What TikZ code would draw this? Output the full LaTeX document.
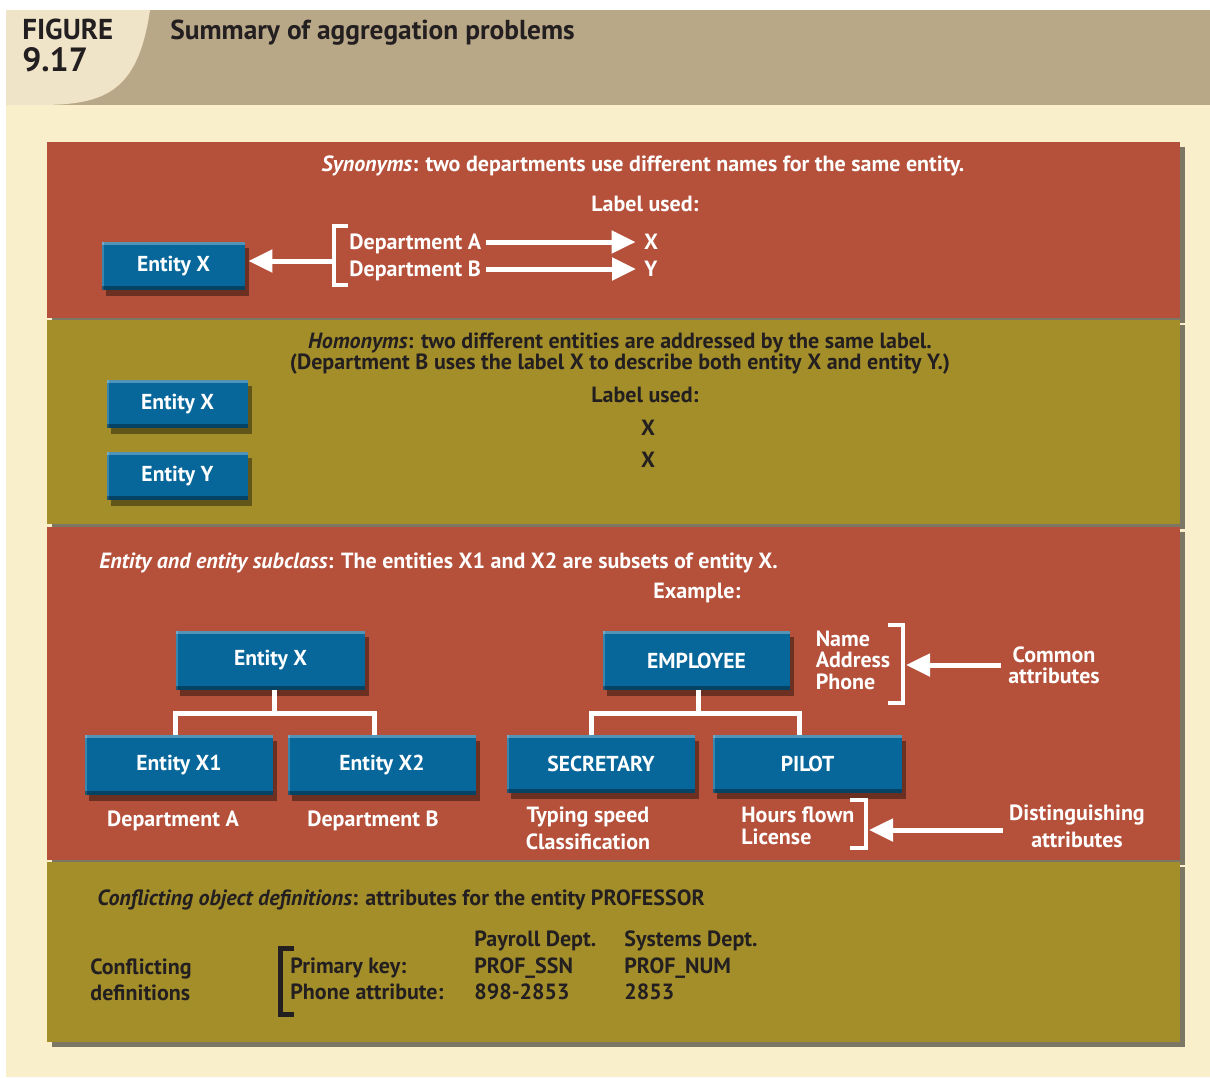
\documentclass[tikz,border=0pt]{standalone}
\usepackage{fontspec}
\setmainfont{PT Sans}
\usetikzlibrary{shadows,arrows.meta,calc}
\definecolor{hdr}{HTML}{B9A888}
\definecolor{tabc}{HTML}{F0E4C8}
\definecolor{cream}{HTML}{F9EFCA}
\definecolor{brick}{HTML}{B5503A}
\definecolor{olive}{HTML}{A38E2A}
\definecolor{boxblue}{HTML}{07679A}
\definecolor{ink}{HTML}{231F20}
\tikzset{
  panel/.style={fill=#1, drop shadow={shadow xshift=2.5pt, shadow yshift=-2.5pt, opacity=0.5, fill=black}},
  ent/.style={fill=boxblue, text=white, font=\bfseries\fontsize{10.8}{13}\selectfont, inner sep=0pt,
    drop shadow={shadow xshift=2.2pt, shadow yshift=-2.8pt, opacity=0.4, fill=black},
    path picture={
      \fill[white,opacity=0.3] (path picture bounding box.north west) rectangle ([yshift=-1.5pt]path picture bounding box.north east);
      \fill[white,opacity=0.2] (path picture bounding box.north west) rectangle ([xshift=1.2pt]path picture bounding box.south west);
      \fill[black,opacity=0.35] (path picture bounding box.south west) rectangle ([yshift=2pt]path picture bounding box.south east);
    }},
  wtxt/.style={text=white, font=\bfseries\fontsize{11}{13}\selectfont, inner sep=0pt},
  dtxt/.style={text=ink, font=\bfseries\fontsize{11}{13}\selectfont, inner sep=0pt},
  wline/.style={draw=white, line width=2.5pt},
  warrow/.style={draw=white, line width=2.5pt, -{Triangle[length=12pt,width=11pt]}},
  wbrack/.style={draw=white, line width=2pt},
  bbrack/.style={draw=ink, line width=2.5pt},
}
\begin{document}
\begin{tikzpicture}[x=0.5pt,y=-0.5pt]
\useasboundingbox (0,0) rectangle (1210,1077);
\fill[white] (0,0) rectangle (1210,1077);
% page background and header band
\fill[cream] (6,105) rectangle (1210,1077);
\fill[hdr] (6,10) rectangle (1210,105);
\fill[tabc] (6,10) -- (150,10) .. controls (138,92) and (105,105) .. (40,105) -- (6,105) -- cycle;
\node[text=ink, font=\bfseries\fontsize{14.4}{16}\selectfont, anchor=mid west, inner sep=0pt] (fig) at (22,34) {FIGURE};
\node[text=ink, font=\bfseries\fontsize{16.8}{19}\selectfont, anchor=mid west, inner sep=0pt] (num) at (22,66) {9.17};
\node[text=ink, font=\bfseries\fontsize{13.7}{16}\selectfont, anchor=mid west, inner sep=0pt] (ttl) at (170,34) {Summary of aggregation problems};

% four bands
\path[panel=brick] (47,142) rectangle (1180,318);
\path[panel=olive] (47,320) rectangle (1180,524);
\path[panel=brick] (47,527) rectangle (1180,860);
\path[panel=olive] (47,862) rectangle (1180,1042);

% ---------- synonyms ----------
\node[wtxt, anchor=mid] (t1) at (643,166) {\textit{Synonyms}: two departments use different names for the same entity.};
\node[wtxt, anchor=mid] (lu1) at (645,206) {Label used:};
\node[ent, minimum width=71.5pt, minimum height=24pt] (s1x) at (173.5,266) {Entity X};
\draw[wbrack] (348,226) -- (334,226) -- (334,285) -- (348,285);
\coordinate (b1) at (334,261);
\node[wtxt, anchor=mid west] (depA) at (349,244) {Department A};
\node[wtxt, anchor=mid west] (depB) at (349,271) {Department B};
\node[wtxt, anchor=mid] (lx) at (651,244) {X};
\node[wtxt, anchor=mid] (ly) at (651,271) {Y};
\coordinate (ra) at ([xshift=2.5pt]depA.mid east);
\coordinate (rb) at ([xshift=2.5pt]depB.mid east);
\draw[warrow] (b1) -- ([xshift=1.5pt]s1x.east |- b1);
\draw[warrow] ([yshift=1pt]ra) -- ([xshift=-4pt,yshift=1pt]lx.west |- ra);
\draw[warrow] ([yshift=1pt]rb) -- ([xshift=-4pt,yshift=1pt]ly.west |- rb);

% ---------- homonyms ----------
\node[dtxt, anchor=mid] (t2a) at (620,343) {\textit{Homonyms}: two different entities are addressed by the same label.};
\node[dtxt, anchor=mid] (t2b) at (620,364) {(Department B uses the label X to describe both entity X and entity Y.)};
\node[dtxt, anchor=mid] (lu2) at (645,397) {Label used:};
\node[dtxt, anchor=mid] (hx1) at (648,430) {X};
\node[dtxt, anchor=mid] (hx2) at (648,462) {X};
\node[ent, minimum width=70.5pt, minimum height=24pt] (hx) at (177.5,404) {Entity X};
\node[ent, minimum width=70.5pt, minimum height=24pt] (hy) at (177.5,476) {Entity Y};

% ---------- entity and subclass ----------
\node[wtxt, anchor=mid west] (t3) at (99,563) {\textit{Entity and entity subclass}: The entities X1 and X2 are subsets of entity X.};
\node[wtxt, anchor=mid] (ex3) at (697,593) {Example:};
\node[ent, minimum width=94.5pt, minimum height=29.5pt] (ex) at (270.5,660.5) {Entity X};
\node[ent, minimum width=94pt, minimum height=30pt] (ex1) at (179,765) {Entity X1};
\node[ent, minimum width=94pt, minimum height=30pt] (ex2) at (382,765) {Entity X2};
\draw[wline] ([xshift=2pt]ex.south) -- ++(0,23) coordinate (j1);
\draw[wline] ([xshift=-2pt]ex1.north) |- (j1) -| ([xshift=-4pt]ex2.north);
\node[wtxt, anchor=mid] (da) at (173,821) {Department A};
\node[wtxt, anchor=mid] (db) at (373,821) {Department B};

\node[ent, minimum width=93.5pt, minimum height=29.5pt] (emp) at (696.5,660.5) {EMPLOYEE};
\node[ent, minimum width=94pt, minimum height=29pt] (sec) at (601,764) {SECRETARY};
\node[ent, minimum width=94.5pt, minimum height=29pt] (pil) at (807.5,764) {PILOT};
\draw[wline] ([xshift=1pt]emp.south) -- ++(0,23) coordinate (j2);
\draw[wline] ([xshift=-5pt]sec.north) |- (j2) -| ([xshift=-4pt]pil.north);

\node[wtxt, anchor=center, align=left, font=\bfseries\fontsize{11}{10.8}\selectfont] (nap) at (853,660) {Name\\Address\\Phone};
\draw[wbrack] (888,625) -- (903,625) -- (903,703) -- (888,703);
\coordinate (b2) at (906,665);
\node[wtxt, anchor=center, align=center, font=\bfseries\fontsize{11}{10.5}\selectfont] (ca) at (1054,665) {Common\\attributes};
\draw[warrow] ([xshift=-3.5pt]ca.west |- b2) -- (b2);

\node[wtxt, anchor=center, align=center, font=\bfseries\fontsize{11}{13.5}\selectfont] (ts) at (588,828) {Typing speed\\Classification};
\node[wtxt, anchor=west, align=left, font=\bfseries\fontsize{11}{11}\selectfont] (hf) at (741,826) {Hours flown\\License};
\draw[wbrack] (850,800) -- (866,800) -- (866,848) -- (850,848);
\coordinate (b3) at (869,830);
\node[wtxt, anchor=center, align=center, font=\bfseries\fontsize{11}{13.5}\selectfont] (da2) at (1077,826) {Distinguishing\\attributes};
\draw[warrow] ([xshift=-3pt]da2.west |- b3) -- (b3);

% ---------- conflicting definitions ----------
\node[dtxt, anchor=mid west] (t4) at (97,900) {\textit{Conflicting object definitions}: attributes for the entity PROFESSOR};
\node[dtxt, anchor=west, align=left, font=\bfseries\fontsize{11}{13}\selectfont] (cd) at (90,980) {Conflicting\\definitions};
\draw[bbrack] (294,948) -- (280,948) -- (280,1014) -- (294,1014);
\node[dtxt, anchor=mid west] (pk) at (290,968) {Primary key:};
\node[dtxt, anchor=mid west] (pa) at (290,994) {Phone attribute:};
\node[dtxt, anchor=mid west] (pd) at (474,941) {Payroll Dept.};
\node[dtxt, anchor=mid west] (pssn) at (474,968) {PROF\_SSN};
\node[dtxt, anchor=mid west] (pph) at (474,994) {898-2853};
\node[dtxt, anchor=mid west] (sd) at (624,941) {Systems Dept.};
\node[dtxt, anchor=mid west] (snum) at (624,968) {PROF\_NUM};
\node[dtxt, anchor=mid west] (sph) at (624,994) {2853};
\end{tikzpicture}
\end{document}
